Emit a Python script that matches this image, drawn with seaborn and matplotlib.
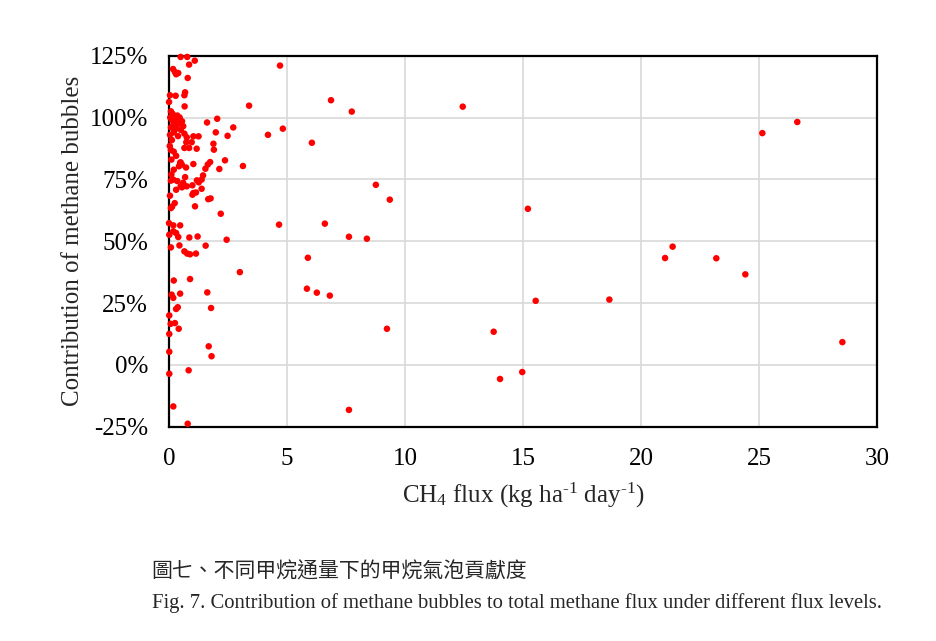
import matplotlib
matplotlib.use('Agg')
import matplotlib.pyplot as plt
import pandas as pd
import seaborn as sns
from matplotlib.ticker import PercentFormatter

# CH4 flux (kg ha-1 day-1) and bubble contribution (%)
flux_dense = [0.49, 0.77, 1.09, 0.85, 0.17, 0.25, 0.39, 0.30, 0.79, 0.04, 0.28, 0.68,
              0.65, 0.00, 0.66, 0.08, 0.15, 0.22, 0.35, 0.05, 0.45, 0.12, 0.28, 0.55,
              0.40, 0.18, 0.60, 0.08, 0.30, 0.50, 0.20, 0.65, 0.04, 0.38, 1.03, 1.25,
              0.75, 0.73, 0.96, 0.85, 1.17, 0.65, 0.12, 0.08, 0.20, 0.03, 0.30, 0.10,
              0.47, 1.03, 0.72, 0.49, 0.54, 0.42, 0.20, 0.68, 0.99, 0.75, 0.49, 0.30,
              0.18, 0.08, 0.35, 0.60, 0.55, 0.04, 0.24, 0.13, 0.08, 1.03, 1.10, 1.38,
              1.38, 0.10]
contrib_dense = [124.5, 124.5, 123.0, 121.4, 119.6, 118.4, 118.0, 117.5, 116.0, 109.0, 108.8, 110.2,
                 109.0, 106.3, 104.5, 102.5, 101.5, 100.5, 100.8, 100.0, 100.0, 99.0, 98.8, 98.5,
                 97.5, 97.0, 96.5, 96.0, 95.5, 95.0, 94.0, 93.5, 93.0, 92.5, 92.4, 92.4,
                 92.0, 90.0, 90.0, 87.7, 87.4, 87.7, 90.9, 86.9, 86.2, 88.5, 84.5, 83.0,
                 81.7, 81.2, 79.8, 81.9, 81.0, 80.3, 78.9, 75.9, 72.6, 72.2, 72.2, 70.8,
                 74.9, 74.5, 74.3, 73.6, 71.8, 68.4, 65.4, 64.0, 63.4, 69.5, 64.1, 74.9,
                 71.2, 77.0]

flux_mid = [2.04, 1.61, 2.72, 1.98, 2.48, 1.88, 1.90, 2.37, 2.13, 1.74, 1.64, 1.54,
            1.44, 1.26, 1.18, 1.76, 1.66, 2.19, 0.99, 1.14, 2.44]
contrib_mid = [99.5, 98.0, 96.0, 94.0, 92.6, 89.4, 87.0, 82.7, 79.2, 82.0, 81.0, 79.3,
               76.6, 73.8, 74.6, 67.3, 67.0, 61.1, 68.8, 69.7, 50.6]

flux_low = [0.00, 0.18, 0.47, 0.18, 0.30, 0.01, 0.39, 0.86, 1.21, 0.08, 0.44, 1.55,
            0.65, 0.77, 0.89, 1.14, 0.20, 0.89, 0.11, 0.18, 0.47, 1.62, 0.30, 0.37,
            1.78, 0.01, 0.07, 0.25, 0.41, 0.01, 1.68, 1.80, 0.01, 0.01, 0.83, 0.18,
            0.79]
contrib_low = [57.3, 56.4, 56.4, 54.0, 53.3, 52.6, 51.7, 51.5, 51.9, 47.5, 48.3, 48.2,
               45.9, 45.0, 44.7, 45.0, 34.1, 34.7, 28.4, 27.1, 28.8, 29.3, 22.6, 23.3,
               23.0, 20.0, 16.6, 16.9, 14.6, 12.5, 7.5, 3.5, 5.3, -3.6, -2.2, -16.8,
               -23.8]

flux_high = [4.70, 12.44, 7.74, 6.86, 26.61, 25.13, 3.39, 4.19, 4.82, 6.05, 3.13, 8.76,
             9.35, 15.20, 6.60, 4.66, 7.62, 8.38, 5.88, 21.01, 21.33, 23.18, 24.41, 3.00,
             5.84, 6.26, 6.81, 15.53, 18.65, 9.23, 13.75, 28.52, 14.02, 14.96, 7.62]
contrib_high = [121.0, 104.4, 102.4, 107.0, 98.2, 93.7, 104.8, 93.0, 95.5, 89.8, 80.4, 72.8,
                66.8, 63.1, 57.1, 56.7, 51.8, 51.0, 43.3, 43.2, 47.8, 43.1, 36.6, 37.5,
                30.8, 29.2, 28.0, 25.9, 26.4, 14.6, 13.4, 9.2, -5.7, -2.9, -18.2]

df = pd.DataFrame({
    'flux': flux_dense + flux_mid + flux_low + flux_high,
    'contrib': contrib_dense + contrib_mid + contrib_low + contrib_high,
})

sns.set_theme(style='white')
plt.rcParams['font.family'] = ['Liberation Serif', 'DejaVu Serif']
plt.rcParams['mathtext.fontset'] = 'custom'
plt.rcParams['mathtext.rm'] = 'Liberation Serif'
plt.rcParams['mathtext.it'] = 'Liberation Serif:italic'
plt.rcParams['axes.unicode_minus'] = False

fig = plt.figure(figsize=(9.36, 6.41), dpi=100)
ax = fig.add_axes([0.1806, 0.3343, 0.9373 - 0.1806, 0.9131 - 0.3343])

sns.scatterplot(data=df, x='flux', y='contrib', ax=ax, color='#ff0000',
                s=22, edgecolor='none', linewidth=0, zorder=3, clip_on=False)

ax.set_xlim(0, 30)
ax.set_ylim(-25, 125)
ax.set_xticks([0, 5, 10, 15, 20, 25, 30])
ax.set_yticks([-25, 0, 25, 50, 75, 100, 125])
ax.yaxis.set_major_formatter(PercentFormatter(decimals=0))
ax.grid(True, color='#d9d9d9', linewidth=1.2, zorder=0)
ax.set_axisbelow(True)
for sp in ax.spines.values():
    sp.set_color('black')
    sp.set_linewidth(1.6)
    sp.set_visible(True)
ax.tick_params(axis='both', direction='out', length=6, width=1.6, colors='black',
               labelsize=18, pad=9)

ax.set_xlabel(r'CH$_{\mathrm{4}}$ flux (kg ha$^{\text{-1}}$ day$^{\text{-1}}$)', fontsize=18, labelpad=8)
ax.set_ylabel('Contribution of methane bubbles', fontsize=18, labelpad=4)

fig.text(0.162, 0.109, '圖七、不同甲烷通量下的甲烷氣泡貢獻度', fontsize=15,
         family=['Noto Sans CJK TC', 'DejaVu Sans'], va='center', ha='left')
fig.text(0.162, 0.059, 'Fig. 7. Contribution of methane bubbles to total methane flux under different flux levels.',
         fontsize=14.9, va='center', ha='left')

fig.savefig('out.png', dpi=100, facecolor='white')
